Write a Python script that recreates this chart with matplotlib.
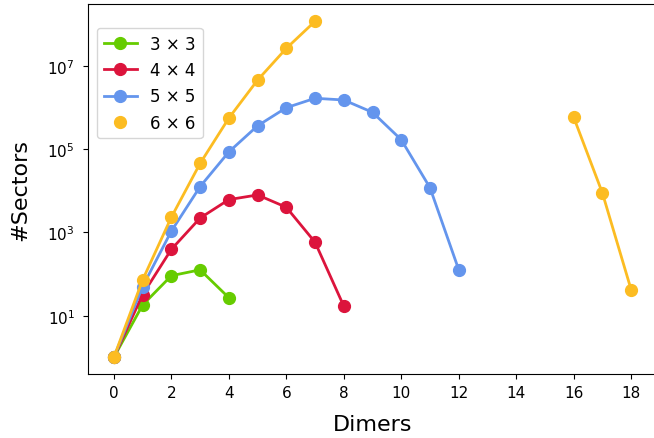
import numpy as np
import matplotlib
matplotlib.use("Agg")
import matplotlib.pyplot as plt

# Sector counts per number of dimers
dimers3 = [0, 1, 2, 3, 4]
sectors3 = [1, 18, 91, 126, 27]

dimers4 = [0, 1, 2, 3, 4, 5, 6, 7, 8]
sectors4 = [1, 32, 390, 2200, 6100, 7900, 4000, 580, 17]

dimers5 = [0, 1, 2, 3, 4, 5, 6, 7, 8, 9, 10, 11, 12]
sectors5 = [1, 50, 1070, 12500, 85000, 360000, 980000, 1650000, 1500000, 760000, 167000, 11800, 127]

# 6x6 only known at the two ends
dimers6_lo = [0, 1, 2, 3, 4, 5, 6, 7]
sectors6_lo = [1, 72, 2300, 45000, 550000, 4500000, 26000000, 116000000]
dimers6_hi = [16, 17, 18]
sectors6_hi = [580000, 8800, 42]

c3 = '#66cc00'
c4 = '#dc143c'
c5 = '#6495ed'
c6 = '#fcbc22'

fig = plt.figure(figsize=(6.54, 4.39), dpi=100)
ax = fig.add_axes([88/654, 64/439, 569/654, 370/439])

ax.plot(dimers3, sectors3, 'o-', color=c3, lw=2, ms=8.5, label='3 × 3')
ax.plot(dimers4, sectors4, 'o-', color=c4, lw=2, ms=8.5, label='4 × 4')
ax.plot(dimers5, sectors5, 'o-', color=c5, lw=2, ms=8.5, label='5 × 5')
ax.plot(dimers6_lo, sectors6_lo, '-', color=c6, lw=2)
ax.plot(dimers6_hi, sectors6_hi, '-', color=c6, lw=2)
ax.plot(dimers6_lo + dimers6_hi, sectors6_lo + sectors6_hi, 'o', color=c6, ms=8.5, label='6 × 6')

ax.set_yscale('log')
ax.set_xlim(-0.9, 18.9)
ax.set_ylim(10**-0.40, 10**8.48)
ax.set_xticks(np.arange(0, 19, 2))
ax.set_yticks([1e1, 1e3, 1e5, 1e7])
ax.minorticks_off()
ax.tick_params(axis='x', labelsize=11, pad=4.5)
ax.tick_params(axis='y', labelsize=11, pad=6)
ax.set_xlabel('Dimers', fontsize=16, labelpad=10)
ax.set_ylabel('#Sectors', fontsize=16, labelpad=12)

leg = ax.legend(loc='upper left', bbox_to_anchor=(0.016, 0.935), borderaxespad=0,
                fontsize=12)

fig.savefig('out.png', dpi=100)
